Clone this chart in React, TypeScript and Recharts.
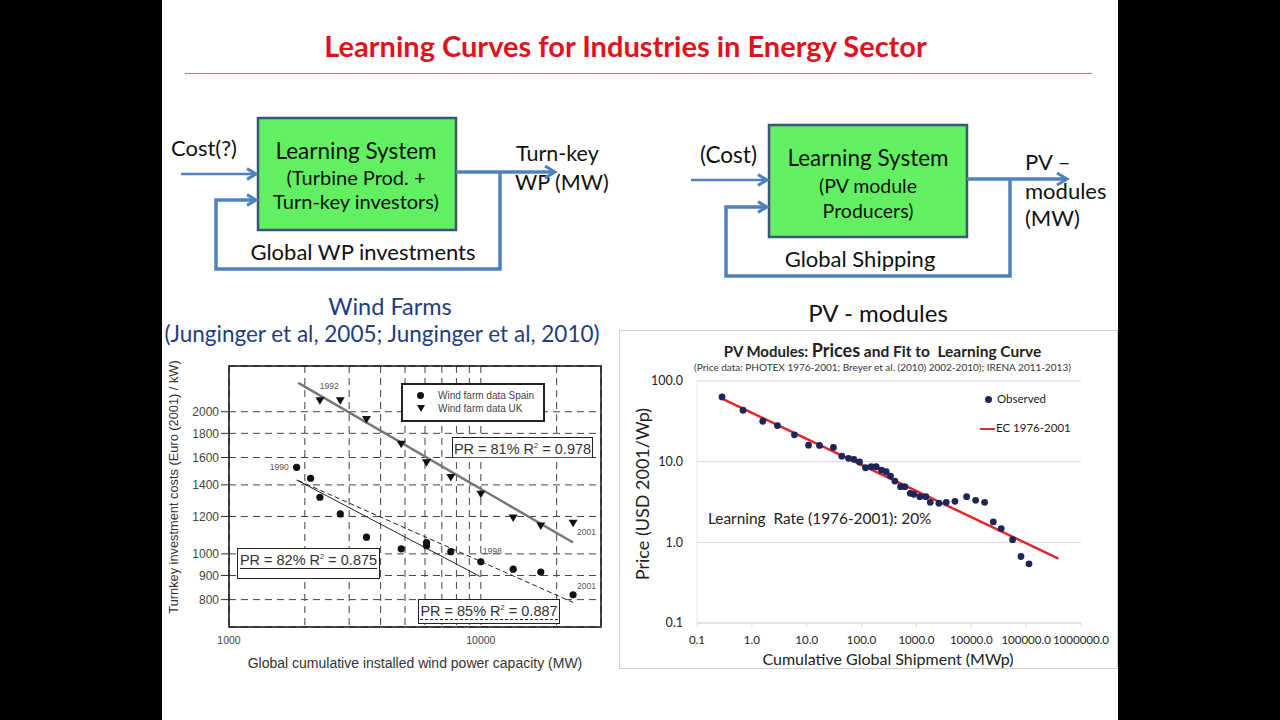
import React from 'react';
import { ScatterChart, Scatter, XAxis, YAxis, CartesianGrid, ReferenceArea, Legend } from 'recharts';

// Wind farms: turnkey investment cost vs. global cumulative capacity
const spainCapacityMW = [1856, 2109, 2296, 2766, 3515, 4828, 6086, 6086, 7600, 10000, 13440, 17300, 23240];
const spainCostEur = [1525, 1446, 1318, 1215, 1085, 1025, 1057, 1041, 1011, 962, 928, 915, 819];
const spainYears = ['1990', '', '', '', '', '', '', '', '', '1998', '', '', '2001'];

const ukCapacityMW = [2296, 2766, 3515, 4828, 6086, 7600, 10000, 13440, 17300, 23240];
const ukCostEur = [2109, 2109, 1927, 1706, 1560, 1452, 1337, 1191, 1146, 1161];
const ukYears = ['', '1992', '', '', '', '', '', '', '', '2001'];

// fitted progress-ratio lines (end points)
const ukFitCapacity = [1884, 23240];
const ukFitCost = [2302, 1057];
const spainFitCapacity = [1856, 9950];
const spainFitCost = [1434, 895];
const spainFit2Capacity = [1884, 23240];
const spainFit2Cost = [1430, 789];

const windXTicks = [1000, 2000, 3000, 4000, 5000, 6000, 7000, 8000, 9000, 10000, 20000];
const windXLabels = [1000, 10000];
const windYTicks = [800, 900, 1000, 1200, 1400, 1600, 1800, 2000];

// PV modules: price vs. cumulative shipments
const pvShipmentMWp = [0.286, 0.69, 1.58, 2.93, 5.98, 10.8, 17.1, 30.7, 43.6, 57.8, 72.3, 91.7, 118, 150, 185, 231, 281, 337, 405, 513, 616, 771, 899, 1157, 1488, 1786, 2570, 3499, 5035, 8222, 12000, 17500, 25200, 35200, 56700, 80500, 112700];
const pvPriceUsd = [63.4, 43.4, 31.7, 28.0, 21.5, 16.0, 15.9, 15.0, 11.7, 11.0, 10.7, 9.9, 8.4, 8.65, 8.65, 7.87, 7.5, 6.63, 5.75, 4.9, 4.9, 4.05, 3.94, 3.68, 3.68, 3.13, 3.05, 3.13, 3.22, 3.68, 3.32, 3.13, 1.79, 1.48, 1.08, 0.667, 0.542];
const pvFitShipment = [0.286, 387000];
const pvFitPrice = [60.5, 0.63];

const pvXTicks = [0.1, 1, 10, 100, 1000, 10000, 100000, 1000000];
const pvYTicks = [0.1, 1, 10, 100];

const zip = (xs: number[], ys: number[], labels?: string[]) =>
  xs.map((x, i) => ({ x, y: ys[i], label: labels ? labels[i] : '' }));

const windFont = '"Liberation Sans", Arial, sans-serif';
const slideFont = 'Lato, "Noto Sans", sans-serif';
const arrowBlue = '#4f81bd';

// where the year annotations sit relative to their marker
const yearOffsets: Record<string, { dx: number; dy: number; anchor: 'start' | 'middle' | 'end' }> = {
  'spain-1990': { dx: -8, dy: 0, anchor: 'end' },
  'spain-1998': { dx: 2, dy: -11, anchor: 'start' },
  'spain-2001': { dx: 4, dy: -9, anchor: 'start' },
  'uk-1992': { dx: -11, dy: -15, anchor: 'middle' },
  'uk-2001': { dx: 4, dy: 9, anchor: 'start' },
};

const YearLabel = ({ cx, cy, label, series }: any) => {
  if (!label) return null;
  const o = yearOffsets[`${series}-${label}`];
  return (
    <text x={cx + o.dx} y={cy + o.dy} dy={3} textAnchor={o.anchor} fontSize={8.5} fill="#555" fontFamily={windFont}>
      {label}
    </text>
  );
};

const SpainDot = (props: any) => {
  const { cx, cy, payload } = props;
  return (
    <g>
      <circle cx={cx} cy={cy} r={3.6} fill="#111" />
      <YearLabel cx={cx} cy={cy} label={payload.label} series="spain" />
    </g>
  );
};

const UkTriangle = (props: any) => {
  const { cx, cy, payload } = props;
  return (
    <g>
      <polygon points={`${cx - 4.5},${cy - 3.5} ${cx + 4.5},${cy - 3.5} ${cx},${cy + 4}`} fill="#111" />
      <YearLabel cx={cx} cy={cy} label={payload.label} series="uk" />
    </g>
  );
};

const NoMarker = () => <g />;

const PvDot = (props: any) => <circle cx={props.cx} cy={props.cy} r={3.4} fill="#1c2757" />;

const WindLegend = () => (
  <div style={{ border: '2px solid #222', background: '#fff', width: 144, height: 39, boxSizing: 'border-box', padding: '4px 0 0 14px', fontFamily: windFont, fontSize: 10, color: '#444', lineHeight: '13px', whiteSpace: 'nowrap' }}>
    <div><span style={{ display: 'inline-block', width: 7, height: 7, borderRadius: 4, background: '#111', marginRight: 14 }} />Wind farm data Spain</div>
    <div><span style={{ display: 'inline-block', width: 0, height: 0, borderLeft: '4px solid transparent', borderRight: '4px solid transparent', borderTop: '7px solid #111', marginRight: 13 }} />Wind farm data UK</div>
  </div>
);

const PvLegend = () => (
  <div style={{ fontFamily: slideFont, fontSize: 11.5, color: '#222', lineHeight: '29px', whiteSpace: 'nowrap' }}>
    <div><span style={{ display: 'inline-block', width: 7, height: 7, borderRadius: 4, background: '#1c2757', marginLeft: 5, marginRight: 5 }} />Observed</div>
    <div><span style={{ display: 'inline-block', width: 15, height: 2.5, background: '#e3262b', verticalAlign: 'middle', marginRight: 1 }} />EC 1976-2001</div>
  </div>
);

const PrBox = ({ left, top, width, height, text, r2, underline }: any) => (
  <div style={{ position: 'absolute', left, top, width, height, boxSizing: 'border-box', border: '1.5px solid #222', background: '#fff', fontFamily: windFont, fontSize: 14.5, color: '#333', whiteSpace: 'nowrap', textAlign: 'center' }}>
    <div style={{ display: 'inline-block', marginTop: 0, borderBottom: underline, lineHeight: '16px' }}>
      {text} R<sup style={{ fontSize: 7.5 }}>2</sup> = {r2}
    </div>
  </div>
);

const Chevron = ({ x, y, size }: { x: number; y: number; size: number }) => (
  <polyline points={`${x - size},${y - size * 0.6} ${x},${y} ${x - size},${y + size * 0.6}`} fill="none" stroke={arrowBlue} strokeWidth={3} strokeLinejoin="miter" />
);

const Diagrams = () => (
  <svg width={1280} height={352} style={{ position: 'absolute', left: 0, top: 0 }} fontFamily={slideFont}>
    {/* wind power loop */}
    <rect x={258} y={118} width={198} height={112} fill="#62f062" stroke="#3b5775" strokeWidth={2.5} />
    <text x={356} y={150} textAnchor="middle" dominantBaseline="central" fontSize={22.5} fill="#111">Learning System</text>
    <text x={356} y={177} textAnchor="middle" dominantBaseline="central" fontSize={20} fill="#111">(Turbine Prod. +</text>
    <text x={356} y={201} textAnchor="middle" dominantBaseline="central" fontSize={20} fill="#111">Turn-key investors)</text>
    <text x={171} y={147} dominantBaseline="central" fontSize={22} fill="#111">Cost(?)</text>
    <text x={516} y={153} dominantBaseline="central" fontSize={21.5} fill="#111">Turn-key</text>
    <text x={515} y={182} dominantBaseline="central" fontSize={21.5} fill="#111">WP (MW)</text>
    <text x={363} y={251} textAnchor="middle" dominantBaseline="central" fontSize={22} fill="#111">Global WP investments</text>
    <line x1={181} y1={174} x2={256} y2={174} stroke={arrowBlue} strokeWidth={2.5} />
    <Chevron x={256} y={174} size={9} />
    <line x1={456} y1={172} x2={554} y2={172} stroke={arrowBlue} strokeWidth={3.5} />
    <Chevron x={555} y={172} size={10} />
    <polyline points="500,172 500,269 216,269 216,200 256,200" fill="none" stroke={arrowBlue} strokeWidth={3.5} />
    <Chevron x={256} y={200} size={9} />
    <text x={390} y={306} textAnchor="middle" dominantBaseline="central" fontSize={23.5} fill="#1f3d7a">Wind Farms</text>
    <text x={382} y={333} textAnchor="middle" dominantBaseline="central" fontSize={22.5} fill="#1f3d7a">(Junginger et al, 2005; Junginger et al, 2010)</text>

    {/* PV module loop */}
    <rect x={769} y={125} width={198} height={112} fill="#62f062" stroke="#3b5775" strokeWidth={2.5} />
    <text x={868} y={157} textAnchor="middle" dominantBaseline="central" fontSize={22.5} fill="#111">Learning System</text>
    <text x={868} y={185} textAnchor="middle" dominantBaseline="central" fontSize={19.5} fill="#111">(PV module</text>
    <text x={868} y={210} textAnchor="middle" dominantBaseline="central" fontSize={19.5} fill="#111">Producers)</text>
    <text x={700} y={154} dominantBaseline="central" fontSize={22.5} fill="#111">(Cost)</text>
    <text x={1025} y={161} dominantBaseline="central" fontSize={22} fill="#111">PV –</text>
    <text x={1025} y={190} dominantBaseline="central" fontSize={22} fill="#111">modules</text>
    <text x={1025} y={217} dominantBaseline="central" fontSize={22} fill="#111">(MW)</text>
    <text x={860} y={258} textAnchor="middle" dominantBaseline="central" fontSize={22} fill="#111">Global Shipping</text>
    <line x1={691} y1={180} x2={767} y2={180} stroke={arrowBlue} strokeWidth={2.5} />
    <Chevron x={767} y={180} size={9} />
    <line x1={967} y1={179} x2={1066} y2={179} stroke={arrowBlue} strokeWidth={3.5} />
    <Chevron x={1067} y={179} size={10} />
    <polyline points="1010,179 1010,276 726,276 726,207 767,207" fill="none" stroke={arrowBlue} strokeWidth={3.5} />
    <Chevron x={767} y={207} size={9} />
    <text x={878} y={312} textAnchor="middle" dominantBaseline="central" fontSize={24} fill="#111">PV - modules</text>
  </svg>
);

const WindChart = () => (
  <div style={{ position: 'absolute', left: 163, top: 355, width: 450, height: 330 }}>
    <ScatterChart width={450} height={330} margin={{ top: 11, right: 12, bottom: 28, left: 0 }}>
      <CartesianGrid stroke="#444" strokeDasharray="7 5" />
      <XAxis
        type="number" dataKey="x" scale="log" domain={[1000, 30000]} allowDataOverflow
        ticks={windXTicks} interval={0} height={30} axisLine={false} tickLine={false} tickMargin={4}
        tickFormatter={(v: number) => (windXLabels.includes(v) ? String(v) : '')}
        tick={{ fontSize: 10.5, fill: '#444', fontFamily: windFont }}
      />
      <YAxis
        type="number" dataKey="y" scale="log" domain={[700, 2500]} allowDataOverflow
        ticks={windYTicks} interval={0} width={66} axisLine={false} tickSize={8} tickMargin={2}
        tickLine={{ stroke: '#333' }}
        tick={{ fontSize: 12, fill: '#444', fontFamily: windFont }}
      />
      <ReferenceArea x1={1000} x2={30000} y1={700} y2={2500} fill="none" stroke="#111" strokeWidth={1.5} />
      <Scatter data={zip(ukFitCapacity, ukFitCost)} line={{ stroke: '#777', strokeWidth: 2.5 }} shape={NoMarker} isAnimationActive={false} />
      <Scatter data={zip(spainFitCapacity, spainFitCost)} line={{ stroke: '#222', strokeWidth: 1 }} shape={NoMarker} isAnimationActive={false} />
      <Scatter data={zip(spainFit2Capacity, spainFit2Cost)} line={{ stroke: '#222', strokeWidth: 1, strokeDasharray: '5 3' }} shape={NoMarker} isAnimationActive={false} />
      <Scatter name="Wind farm data Spain" data={zip(spainCapacityMW, spainCostEur, spainYears)} shape={SpainDot} isAnimationActive={false} />
      <Scatter name="Wind farm data UK" data={zip(ukCapacityMW, ukCostEur, ukYears)} shape={UkTriangle} isAnimationActive={false} />
      <Legend layout="horizontal" verticalAlign="middle" content={() => <WindLegend />}
        wrapperStyle={{ left: 238, top: 28, width: 144, height: 39, bottom: 'auto' }} />
    </ScatterChart>
  </div>
);

const fmtPv = (v: number) => v.toFixed(1);

const PvChart = () => (
  <div style={{ position: 'absolute', left: 619, top: 330, width: 497, height: 337, border: '1px solid #cfcfcf', background: '#fff' }}>
    <div style={{ position: 'absolute', left: 14, width: 497, top: 9, textAlign: 'center', fontFamily: slideFont, fontWeight: 700, color: '#222', whiteSpace: 'nowrap', lineHeight: '20px' }}>
      <span style={{ fontSize: 15 }}>PV Modules: </span>
      <span style={{ fontSize: 18 }}>Prices</span>
      <span style={{ fontSize: 15.5 }}> and Fit to&nbsp; Learning Curve</span>
    </div>
    <div style={{ position: 'absolute', left: 14, width: 497, top: 30, textAlign: 'center', fontFamily: slideFont, fontSize: 10, color: '#333', whiteSpace: 'nowrap' }}>
      (Price data: PHOTEX 1976-2001; Breyer et al. (2010) 2002-2010); IRENA 2011-2013)
    </div>
    <ScatterChart width={497} height={337} margin={{ top: 50, right: 36, bottom: 21, left: 0 }}>
      <CartesianGrid stroke="#d9d9d9" vertical={false} />
      <XAxis
        type="number" dataKey="x" scale="log" domain={[0.1, 1000000]} allowDataOverflow
        ticks={pvXTicks} interval={0} height={24} tickFormatter={fmtPv}
        axisLine={{ stroke: '#d9d9d9' }} tickLine={{ stroke: '#d9d9d9' }} tickSize={4} tickMargin={9}
        tick={{ fontSize: 11.5, fill: '#222', fontFamily: slideFont }}
      />
      <YAxis
        type="number" dataKey="y" scale="log" domain={[0.1, 100]} allowDataOverflow
        ticks={pvYTicks} interval={0} width={77} tickFormatter={fmtPv}
        axisLine={{ stroke: '#e4e4e4' }} tickLine={false} tickMargin={8}
        tick={{ fontSize: 12.5, fill: '#222', fontFamily: slideFont }}
      />
      <Scatter data={zip(pvFitShipment, pvFitPrice)} line={{ stroke: '#e3262b', strokeWidth: 2.5 }} shape={NoMarker} isAnimationActive={false} />
      <Scatter name="Observed" data={zip(pvShipmentMWp, pvPriceUsd)} shape={PvDot} isAnimationActive={false} />
      <Legend layout="horizontal" verticalAlign="middle" content={() => <PvLegend />}
        wrapperStyle={{ left: 360, top: 53, width: 130, height: 60, bottom: 'auto' }} />
    </ScatterChart>
    <div style={{ position: 'absolute', left: 88, top: 178, fontFamily: slideFont, fontSize: 15.4, color: '#222', whiteSpace: 'nowrap' }}>
      Learning&nbsp; Rate (1976-2001): 20%
    </div>
    <div style={{ position: 'absolute', left: 22, top: 163, transform: 'translate(-50%, -50%) rotate(-90deg)', fontFamily: slideFont, fontSize: 18, color: '#222', whiteSpace: 'nowrap' }}>
      Price (USD 2001/Wp)
    </div>
    <div style={{ position: 'absolute', left: 268, top: 327, transform: 'translate(-50%, -50%)', fontFamily: slideFont, fontSize: 16, color: '#222', whiteSpace: 'nowrap' }}>
      Cumulative Global Shipment (MWp)
    </div>
  </div>
);

export default function App() {
  return (
    <div style={{ position: 'fixed', left: 0, top: 0, width: 1280, height: 720, background: '#000', overflow: 'hidden' }}>
      <div style={{ position: 'absolute', left: 162, top: 0, width: 956, height: 720, background: '#fff' }} />
      <div style={{ position: 'absolute', left: 300, top: 29, width: 651, lineHeight: '34px', textAlign: 'center', fontFamily: slideFont, fontWeight: 700, fontSize: 29, color: '#e0121c', whiteSpace: 'nowrap' }}>
        Learning Curves for Industries in Energy Sector
      </div>
      <div style={{ position: 'absolute', left: 185, top: 73, width: 907, height: 1, background: '#e36a6a' }} />
      <Diagrams />
      <WindChart />
      <PrBox left={452} top={437} width={141} height={21} text="PR = 81%" r2="0.978" underline="1.5px solid #555" />
      <PrBox left={237} top={548} width={143} height={31} text="PR = 82%" r2="0.875" underline="1.5px solid #222" />
      <PrBox left={418} top={599} width={142} height={25} text="PR = 85%" r2="0.887" underline="1.5px dashed #222" />
      <div style={{ position: 'absolute', left: 173, top: 487, transform: 'translate(-50%, -50%) rotate(-90deg)', fontFamily: windFont, fontSize: 12.8, color: '#333', whiteSpace: 'nowrap' }}>
        Turnkey investment costs (Euro (2001) / kW)
      </div>
      <div style={{ position: 'absolute', left: 415, top: 663, transform: 'translate(-50%, -50%)', fontFamily: windFont, fontSize: 14, color: '#333', whiteSpace: 'nowrap' }}>
        Global cumulative installed wind power capacity (MW)
      </div>
      <PvChart />
    </div>
  );
}
